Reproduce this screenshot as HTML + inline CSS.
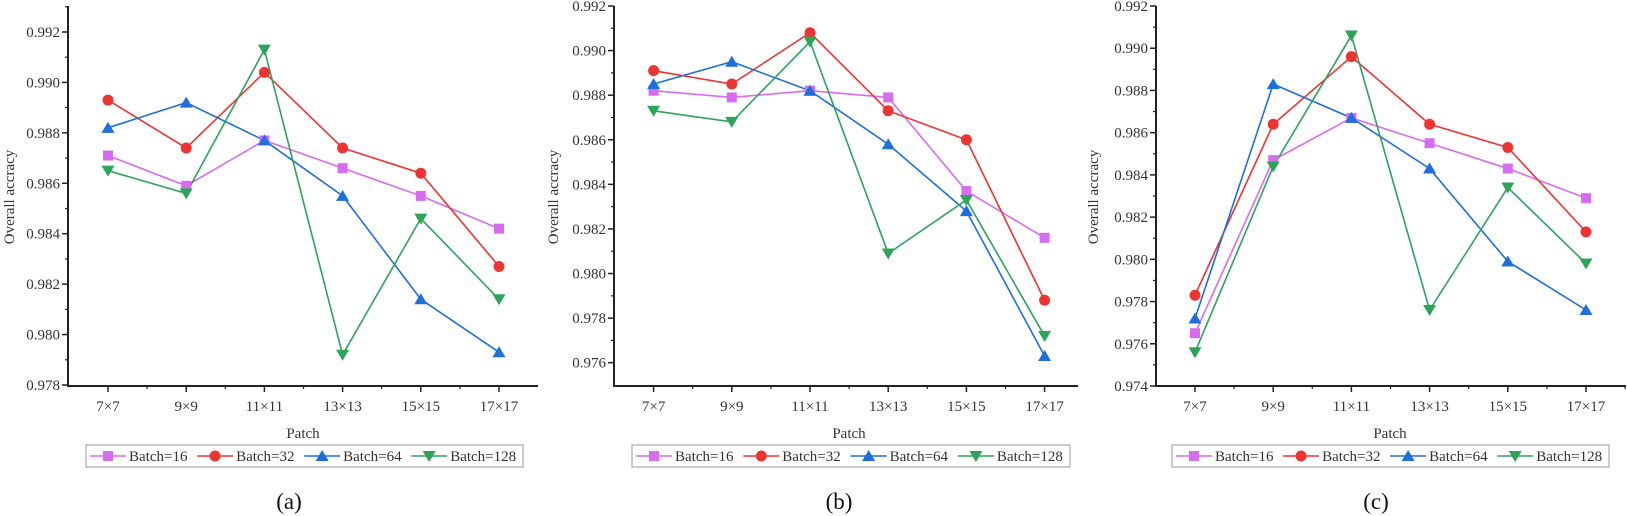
<!DOCTYPE html>
<html><head><meta charset="utf-8">
<style>
html,body{margin:0;padding:0;background:#fff;}
svg{display:block;font-family:"Liberation Serif",serif;}
.tl{font-size:15px;fill:#333;}
.yl{text-anchor:end;}
.xl{text-anchor:middle;}
.lg{font-size:15px;fill:#333;}
</style></head><body>
<svg id="s" width="1627" height="516" viewBox="0 0 1627 516" xmlns="http://www.w3.org/2000/svg">
<g id="plots"></g>
<!-- Panel a text -->
<g class="tl yl">
<text x="60" y="390">0.978</text><text x="60" y="339.6">0.980</text><text x="60" y="289.1">0.982</text><text x="60" y="238.7">0.984</text><text x="60" y="188.3">0.986</text><text x="60" y="137.9">0.988</text><text x="60" y="87.4">0.990</text><text x="60" y="37">0.992</text>
<text x="606" y="367.7">0.976</text><text x="606" y="323.1">0.978</text><text x="606" y="278.5">0.980</text><text x="606" y="233.9">0.982</text><text x="606" y="189.4">0.984</text><text x="606" y="144.8">0.986</text><text x="606" y="100.2">0.988</text><text x="606" y="55.6">0.990</text><text x="606" y="11">0.992</text>
<text x="1148" y="391">0.974</text><text x="1148" y="348.8">0.976</text><text x="1148" y="306.6">0.978</text><text x="1148" y="264.3">0.980</text><text x="1148" y="222.1">0.982</text><text x="1148" y="179.9">0.984</text><text x="1148" y="137.7">0.986</text><text x="1148" y="95.4">0.988</text><text x="1148" y="53.2">0.990</text><text x="1148" y="11">0.992</text>
</g>
<g class="tl xl">
<text x="108" y="411">7×7</text><text x="186.2" y="411">9×9</text><text x="264.4" y="411">11×11</text><text x="342.6" y="411">13×13</text><text x="420.8" y="411">15×15</text><text x="499" y="411">17×17</text>
<text x="653.6" y="411">7×7</text><text x="731.8" y="411">9×9</text><text x="810" y="411">11×11</text><text x="888.2" y="411">13×13</text><text x="966.4" y="411">15×15</text><text x="1044.6" y="411">17×17</text>
<text x="1195" y="411">7×7</text><text x="1273.2" y="411">9×9</text><text x="1351.4" y="411">11×11</text><text x="1429.6" y="411">13×13</text><text x="1507.8" y="411">15×15</text><text x="1586" y="411">17×17</text>
<text x="303" y="438">Patch</text><text x="849" y="438">Patch</text><text x="1390" y="438">Patch</text>
</g>
<g class="tl" text-anchor="middle">
<text transform="translate(14,197) rotate(-90)">Overall accracy</text>
<text transform="translate(558,197) rotate(-90)">Overall accracy</text>
<text transform="translate(1098,197) rotate(-90)">Overall accracy</text>
</g>
<g font-size="23" fill="#111" text-anchor="middle">
<text x="289" y="509">(a)</text><text x="839" y="509">(b)</text><text x="1376" y="509">(c)</text>
</g>
<g id="leg"></g>
</svg>
<script>
var NS="http://www.w3.org/2000/svg";
var P=document.getElementById("plots"), L=document.getElementById("leg");
function el(t,a,p){var e=document.createElementNS(NS,t);for(var k in a)e.setAttribute(k,a[k]);(p||P).appendChild(e);return e;}
var cols=["#d86cf0","#ee3333","#1e6fdc","#2ca45a"];
function marker(i,x,y,g){
  var c=cols[i];
  if(i==0) el("rect",{x:x-5,y:y-5,width:10,height:10,fill:c},g);
  else if(i==1) el("circle",{cx:x,cy:y,r:5.5,fill:c},g);
  else if(i==2) el("polygon",{points:(x)+","+(y-6)+" "+(x-6.5)+","+(y+5)+" "+(x+6.5)+","+(y+5),fill:c},g);
  else el("polygon",{points:(x)+","+(y+6)+" "+(x-6.5)+","+(y-5)+" "+(x+6.5)+","+(y-5),fill:c},g);
}
var panels=[
 {ax:68,right:538,x0:108,v0:0.978,y0:385,v1:0.992,y1:32,ticks:[0.978,0.992],leg:[86,523],
  d:[[.9871,.9859,.9877,.9866,.9855,.9842],[.9893,.9874,.9904,.9874,.9864,.9827],[.9882,.9892,.9877,.9855,.9814,.9793],[.9865,.9856,.9913,.9792,.9846,.9814]]},
 {ax:614,right:1078,x0:653.6,v0:0.976,y0:362.7,v1:0.992,y1:6,ticks:[0.976,0.992],leg:[632,1070],
  d:[[.9882,.9879,.9882,.9879,.9837,.9816],[.9891,.9885,.9908,.9873,.9860,.9788],[.9885,.9895,.9882,.9858,.9828,.9763],[.9873,.9868,.9904,.9809,.9833,.9772]]},
 {ax:1156,right:1626,x0:1195,v0:0.974,y0:386,v1:0.992,y1:6,ticks:[0.974,0.992],leg:[1172,1609],
  d:[[.9765,.9847,.9867,.9855,.9843,.9829],[.9783,.9864,.9896,.9864,.9853,.9813],[.9772,.9883,.9867,.9843,.9799,.9776],[.9756,.9844,.9906,.9776,.9834,.9798]]}
];
panels.forEach(function(p){
  var axY=386, sp=78.2;
  function Y(v){return p.y0+(v-p.v0)/(p.v1-p.v0)*(p.y1-p.y0);}
  el("line",{x1:p.ax,y1:6,x2:p.ax,y2:axY,stroke:"#222","stroke-width":2});
  el("line",{x1:p.ax-1,y1:axY,x2:p.right,y2:axY,stroke:"#222","stroke-width":2});
  var step=(Y(p.v0+0.002)-Y(p.v0));
  for(var v=p.v0,k=0;v<=p.v1+1e-9;v+=0.002,k++){
    var y=Y(v);el("line",{x1:p.ax-6,y1:y,x2:p.ax,y2:y,stroke:"#222","stroke-width":1.5});
    var ym=y+step/2; if(ym>6) el("line",{x1:p.ax-3,y1:ym,x2:p.ax,y2:ym,stroke:"#222","stroke-width":1.2});
  }
  for(var i=0;i<6;i++){var x=p.x0+i*sp;el("line",{x1:x,y1:axY,x2:x,y2:axY+6,stroke:"#222","stroke-width":1.5});
    var xm=x+sp/2; if(xm<p.right) el("line",{x1:xm,y1:axY,x2:xm,y2:axY+3,stroke:"#222","stroke-width":1.2});}
  p.d.forEach(function(s,si){
    var pts=s.map(function(v,i){return (p.x0+i*sp)+","+Y(v);}).join(" ");
    el("polyline",{points:pts,fill:"none",stroke:cols[si],"stroke-width":1.6});
  });
  p.d.forEach(function(s,si){s.forEach(function(v,i){marker(si,p.x0+i*sp,Y(v));});});
  // legend
  var lx=p.leg[0],rx=p.leg[1],w=rx-lx;
  el("rect",{x:lx,y:445,width:w,height:22,fill:"#fff",stroke:"#aaa","stroke-width":1.2},L);
  var names=["Batch=16","Batch=32","Batch=64","Batch=128"];
  var offs=[0,0.245,0.49,0.735];
  names.forEach(function(n,i){
    var x=lx+2+offs[i]*w;
    el("line",{x1:x+2,y1:456,x2:x+38,y2:456,stroke:cols[i],"stroke-width":1.6},L);
    marker(i,x+20,456,L);
    var t=el("text",{x:x+41,y:461,"class":"lg"},L);t.textContent=n;
  });
});
</script>
</body></html>
